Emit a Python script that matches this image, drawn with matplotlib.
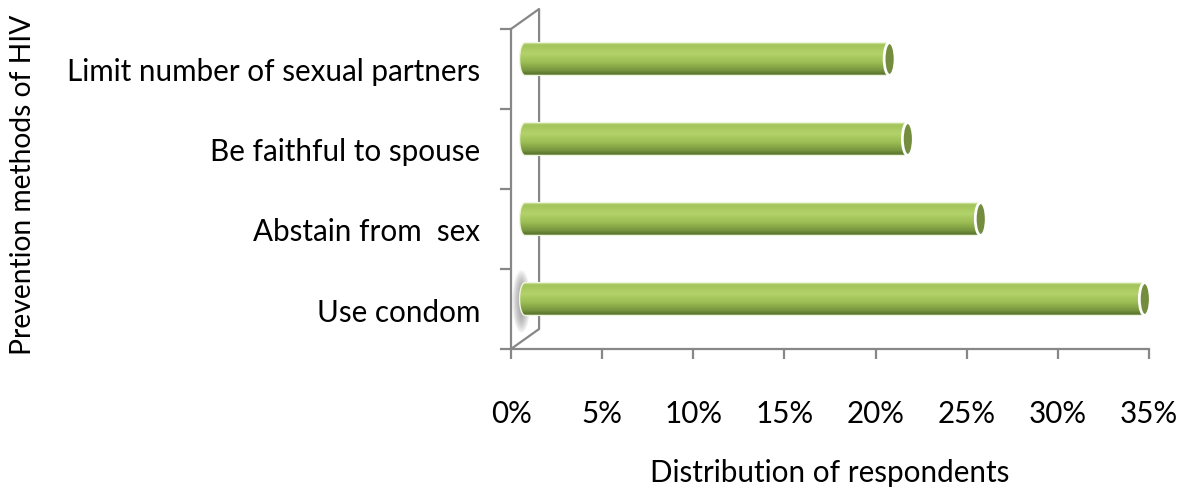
import numpy as np
import matplotlib
matplotlib.use("Agg")
import matplotlib.pyplot as plt
from matplotlib.patches import Ellipse, PathPatch
from matplotlib.path import Path
from matplotlib.colors import to_rgb

plt.rcParams['font.family'] = ['Lato', 'DejaVu Sans']

methods = ['Use condom', 'Abstain from  sex', 'Be faithful to spouse',
           'Limit number of sexual partners']
share = [34, 25, 21, 20]          # percent of respondents
xticks = [0, 5, 10, 15, 20, 25, 30, 35]

gray = '#878787'
fs = 21.3

fig = plt.figure(figsize=(11.94, 4.89), dpi=100)
ax = fig.add_axes([511/1194, 1 - 350/489, 638/1194, 320/489])
ax.set_xlim(0, 35)
ax.set_ylim(0, len(methods))

# 3d depth offsets (data units)
dxb, dyb = 1.54, 0.25          # back wall
dx0, dy0 = dxb / 2, dyb / 2    # middle of the depth, where cylinders sit
h = 0.41
a = 0.3

# back wall outline
ax.plot([0, dxb, dxb, 0], [0, dyb, len(methods) + dyb, len(methods)],
        color=gray, lw=1.6, clip_on=False, zorder=1)

# cylinder shading (top -> bottom)
stops = [(0.0, '#c7df93'), (0.08, '#a3c45a'), (0.35, '#b2d26a'),
         (0.6, '#9dbf55'), (0.85, '#7a9840'), (1.0, '#55702a')]
n = 64
tt = np.linspace(0, 1, n)
grad = np.zeros((n, 1, 3))
for c in range(3):
    grad[:, 0, c] = np.interp(tt, [s[0] for s in stops],
                              [to_rgb(s[1])[c] for s in stops])

# soft shadow near the wall for the first bar
for k in range(8):
    ax.add_patch(Ellipse((dx0 - 0.2, 0.5 + dy0 - 0.03), 1.0 - k * 0.1,
                         0.78 - k * 0.05, color='#808080', alpha=0.1,
                         lw=0, zorder=1.5))

for i, v in enumerate(share):
    yc = i + 0.5 + dy0
    b = h / 2
    x0, x1 = dx0, dx0 + v
    th = np.linspace(np.pi / 2, 3 * np.pi / 2, 30)
    verts = list(zip(x0 + a * np.cos(th), yc + b * np.sin(th)))
    verts += [(x1, yc - b), (x1, yc + b), (x0, yc + b)]
    codes = [Path.MOVETO] + [Path.LINETO] * (len(verts) - 2) + [Path.CLOSEPOLY]
    body = PathPatch(Path(verts, codes), facecolor='none', edgecolor='#eef5dc',
                     lw=1.0, zorder=3)
    ax.add_patch(body)
    im = ax.imshow(grad, extent=(x0 - a, x1, yc - b, yc + b), aspect='auto',
                   origin='upper', zorder=2, interpolation='bilinear')
    im.set_clip_path(body)
    ax.add_patch(Ellipse((x1, yc), 2 * a, h, facecolor='#738c3d',
                         edgecolor='white', lw=2, zorder=4))

ax.set_xlim(0, 35)
ax.set_ylim(0, len(methods))

for s in ['top', 'right']:
    ax.spines[s].set_visible(False)
for s in ['left', 'bottom']:
    ax.spines[s].set_color(gray)
    ax.spines[s].set_linewidth(1.6)

ax.set_xticks(xticks)
ax.set_xticklabels([f'{t}%' for t in xticks], fontsize=fs)
ax.tick_params(axis='x', length=7, width=1.6, color=gray, pad=29)

ax.set_yticks(np.arange(len(methods)) + 0.5)
ax.set_yticklabels(methods, fontsize=fs)
ax.set_yticks(np.arange(len(methods) + 1), minor=True)
ax.tick_params(axis='y', which='major', length=0, pad=22)
ax.tick_params(axis='y', which='minor', length=8, width=1.6, color=gray)

fig.text(830/1194, 1 - 473/489, 'Distribution of respondents', fontsize=fs,
         ha='center', va='center')
fig.text(23/1194, 1 - 185/489, 'Prevention methods of HIV', fontsize=20.3,
         ha='center', va='center', rotation=90)

fig.savefig('out.png', dpi=100)
